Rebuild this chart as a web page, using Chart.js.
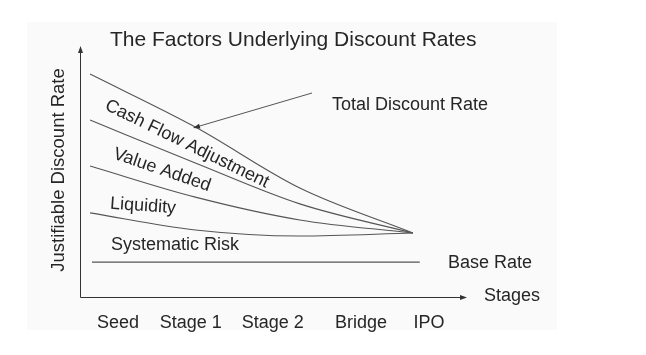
<!DOCTYPE html>
<html>
<head>
<meta charset="utf-8">
<script src="https://cdn.jsdelivr.net/npm/chart.js@4.4.1/dist/chart.umd.min.js"></script>
<style>
  html, body { margin: 0; padding: 0; background: #fff; }
  #wrap { width: 646px; height: 355px; }
</style>
</head>
<body>
<div id="wrap"><canvas id="chart" width="646" height="355"></canvas></div>
<script>
// stages along the x axis (x scale runs 0..5)
const stages = ["Seed", "Stage 1", "Stage 2", "Bridge", "IPO"];
const stagePos = [0.49, 1.43, 2.49, 3.63, 4.51];

// discount rate curves (y scale 0..100), all meeting near IPO
const curveX = [0.13, 1.49, 2.84, 4.30];
const totalRate = [88.8, 67.7, 43.4, 25.5];
const lessCashFlow = [70.5, 53.4, 37.1, 25.5];
const lessValueAdded = [52.2, 39.8, 30.7, 25.5];
const lessLiquidity = [33.5, 26.7, 24.3, 25.5];

const baseX = [0.155, 4.39];
const baseRate = [13.9, 13.9];

const textColor = "#262626";
const lineColor = "#555";
const font = "Liberation Sans, Arial, sans-serif";

function pts(xs, ys) {
	return xs.map((x, i) => ({ x: x, y: ys[i] }));
}

function line(data) {
	return {
		data: data,
		borderColor: lineColor,
		borderWidth: 1.1,
		pointRadius: 0,
		fill: false,
		tension: 0.4,
		cubicInterpolationMode: "monotone",
	};
}

function arrowHead(ctx, x, y, angle, len, w) {
	ctx.save();
	ctx.translate(x, y);
	ctx.rotate(angle);
	ctx.beginPath();
	ctx.moveTo(0, 0);
	ctx.lineTo(-len, -w);
	ctx.lineTo(-len, w);
	ctx.closePath();
	ctx.fill();
	ctx.restore();
}

function label(ctx, text, x, y, deg, align) {
	ctx.save();
	ctx.translate(x, y);
	ctx.rotate((deg * Math.PI) / 180);
	ctx.textAlign = align || "center";
	ctx.textBaseline = "middle";
	ctx.fillText(text, 0, 0);
	ctx.restore();
}

const decor = {
	id: "decor",
	beforeDraw(chart) {
		const ctx = chart.ctx;
		ctx.save();
		ctx.fillStyle = "#fff";
		ctx.fillRect(0, 0, chart.width, chart.height);
		ctx.fillStyle = "#fafafa";
		ctx.fillRect(27, 22, 530, 308);
		ctx.restore();
	},
	afterDraw(chart) {
		const ctx = chart.ctx;
		const a = chart.chartArea;
		const xs = chart.scales.x;
		ctx.save();
		// axes with arrows
		ctx.strokeStyle = "#333";
		ctx.fillStyle = "#333";
		ctx.lineWidth = 1;
		ctx.beginPath();
		ctx.moveTo(a.left + 0.5, a.top + 3);
		ctx.lineTo(a.left + 0.5, a.bottom + 0.5);
		ctx.lineTo(a.right - 3, a.bottom + 0.5);
		ctx.stroke();
		arrowHead(ctx, a.left + 0.5, a.top, -Math.PI / 2, 7, 2.5);
		arrowHead(ctx, a.right, a.bottom + 0.5, 0, 7, 2.5);

		// pointer to total rate
		ctx.strokeStyle = "#555";
		ctx.fillStyle = "#333";
		ctx.beginPath();
		ctx.moveTo(312, 93);
		ctx.lineTo(198, 126.5);
		ctx.stroke();
		arrowHead(ctx, 193, 128, Math.atan2(35, -119), 7, 2.5);

		ctx.fillStyle = textColor;
		ctx.font = "21px " + font;
		label(ctx, "The Factors Underlying Discount Rates", 110, 40, 0, "left");

		ctx.font = "18.5px " + font;
		label(ctx, "Justifiable Discount Rate", 59, 170, -90);
		ctx.font = "18px " + font;
		label(ctx, "Total Discount Rate", 332, 105, 0, "left");
		label(ctx, "Cash Flow Adjustment", 187, 144, 26);
		label(ctx, "Value Added", 162, 170, 19);
		label(ctx, "Liquidity", 143, 206, 4);
		label(ctx, "Systematic Risk", 111, 245, 0, "left");
		label(ctx, "Base Rate", 448, 263, 0, "left");
		label(ctx, "Stages", 484, 296, 0, "left");

		stages.forEach((s, i) => {
			label(ctx, s, xs.getPixelForValue(stagePos[i]), 323, 0);
		});
		ctx.restore();
	},
};

new Chart(document.getElementById("chart"), {
	type: "line",
	data: {
		datasets: [
			line(pts(curveX, totalRate)),
			line(pts(curveX, lessCashFlow)),
			line(pts(curveX, lessValueAdded)),
			line(pts(curveX, lessLiquidity)),
			line(pts(baseX, baseRate)),
		],
	},
	options: {
		responsive: false,
		animation: false,
		devicePixelRatio: 1,
		layout: {
			padding: { left: 80, right: 179, top: 46, bottom: 58 },
		},
		scales: {
			x: { type: "linear", min: 0, max: 5, display: false },
			y: { min: 0, max: 100, display: false },
		},
		plugins: {
			legend: { display: false },
			tooltip: { enabled: false },
		},
	},
	plugins: [decor],
});
</script>
</body>
</html>
